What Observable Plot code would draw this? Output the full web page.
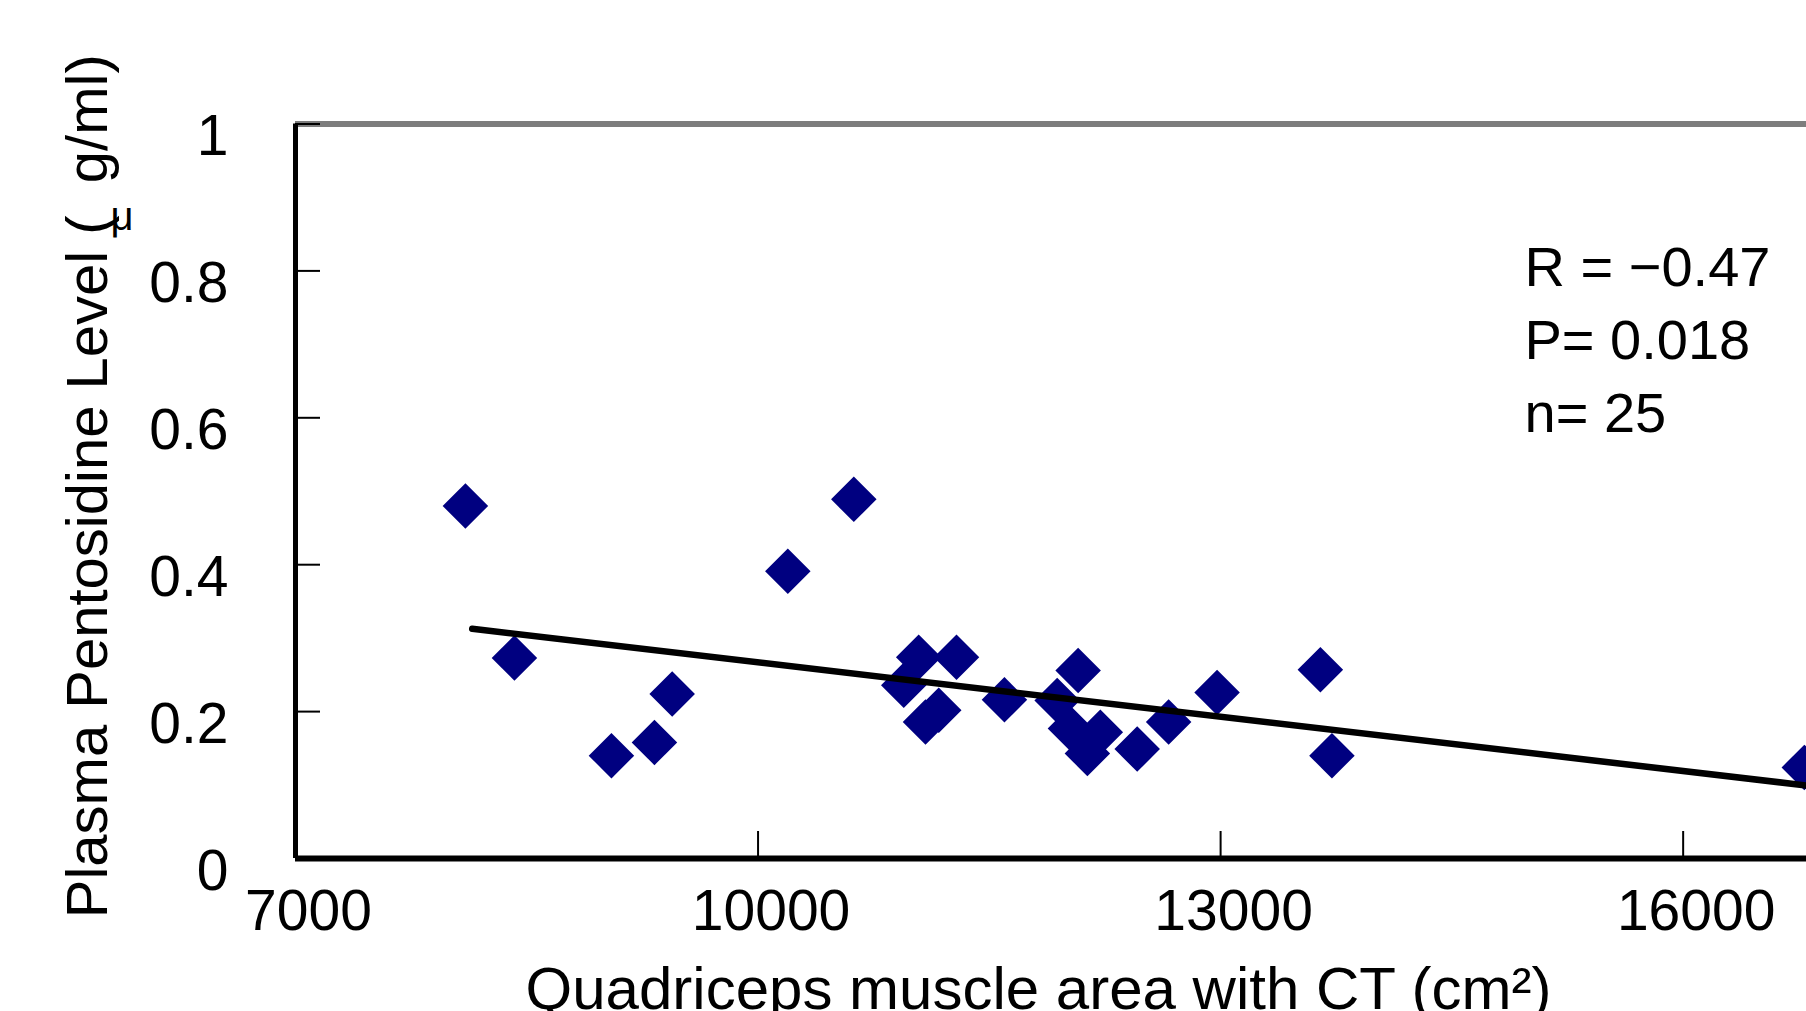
<!DOCTYPE html>
<html>
<head>
<meta charset="utf-8">
<script src="https://cdn.jsdelivr.net/npm/d3@7"></script>
<script src="https://cdn.jsdelivr.net/npm/@observablehq/plot@0.6"></script>
<style>
  html, body { margin: 0; padding: 0; background: #fff; overflow: hidden; }
  #chart svg { display: block; }
</style>
</head>
<body>
<div id="chart"></div>
<script>
// ---- data ----
const areaCT = [8102, 10621, 10193, 8420, 9443, 9049, 9328, 11042, 10945, 11287, 11172, 11086,
                11598, 12076, 11940, 12026, 12136, 12220, 12459, 12663, 12977, 13647, 13722, 16786];
const pentosidine = [0.480, 0.489, 0.391, 0.273, 0.224, 0.140, 0.158, 0.274, 0.236, 0.274, 0.202, 0.186,
                     0.216, 0.256, 0.215, 0.177, 0.143, 0.172, 0.149, 0.186, 0.226, 0.257, 0.140, 0.124];
const trendX = [8146, 16800];
const trendY = [0.3127, 0.0994];
const xTicks = [7000, 10000, 13000, 16000];
const yTicks = [0, 0.2, 0.4, 0.6, 0.8, 1];
const statLines = ["R = \u22120.47", "P= 0.018", "n= 25"];
const xTitle = "Quadriceps muscle area with CT (cm\u00B2)";
const yTitleText = "Plasma Pentosidine Level (  g/ml)";
const yTitleMu = "\u03BC";

// ---- chart ----
const font = "'Liberation Sans', Arial, Helvetica, sans-serif";
const points = d3.range(areaCT.length);
const trend = d3.range(trendX.length);

const chart = Plot.plot({
  width: 1806,
  height: 1011,
  marginLeft: 295,
  marginRight: 0,
  marginTop: 123.5,
  marginBottom: 153,
  style: { fontFamily: font, background: "white", color: "black" },
  x: { type: "linear", domain: [7000, 16800] },
  y: { type: "linear", domain: [0, 1] },
  marks: [
    // frame: top (grey), left and bottom (black)
    Plot.ruleY([1], { stroke: "#7d7d7d", strokeWidth: 6 }),
    Plot.ruleX([7000], { stroke: "black", strokeWidth: 5 }),
    // inward ticks
    Plot.ruleX(xTicks.slice(1), { x: d => d, y1: 0, y2: 0, insetTop: -27, stroke: "black", strokeWidth: 2 }),
    Plot.ruleY(yTicks, { y: d => d, x1: 7000, x2: 7000, insetRight: -25, stroke: "black", strokeWidth: 2 }),
    // tick labels
    Plot.axisX(xTicks, { tickSize: 0, tickPadding: 31, dx: 13, fontSize: 57, tickFormat: d => String(d), label: null }),
    Plot.axisY(yTicks, { tickSize: 0, tickPadding: 67, dy: 13, fontSize: 57, tickFormat: d => String(d), label: null }),
    // data
    Plot.dot(points, {
      x: i => areaCT[i], y: i => pentosidine[i],
      symbol: "diamond2", r: 20.5, fill: "#000080", stroke: "none", clip: true
    }),
    Plot.line(trend, { x: i => trendX[i], y: i => trendY[i], stroke: "black", strokeWidth: 6.5, clip: true }),
    Plot.ruleY([0], { stroke: "black", strokeWidth: 6 }),
    // statistics annotation
    Plot.text([statLines.join("\n")], {
      x: 14971, y: 0.58, textAnchor: "start", lineAnchor: "bottom",
      lineHeight: 1.31, fontSize: 56, fill: "black"
    }),
    // axis titles
    Plot.text([xTitle], {
      frameAnchor: "bottom", dx: -12.5, dy: 150, lineAnchor: "bottom",
      fontSize: 60, fill: "black"
    }),
    Plot.text([yTitleText], {
      frameAnchor: "left", rotate: -90, dx: -206.6, dy: -5, textAnchor: "middle",
      fontSize: 58, fill: "black"
    }),
    Plot.text([yTitleMu], {
      frameAnchor: "top-left", dx: -185, dy: 106, textAnchor: "start", lineAnchor: "bottom",
      fontSize: 40, fill: "black"
    })
  ]
});

document.getElementById("chart").appendChild(chart);
</script>
</body>
</html>
